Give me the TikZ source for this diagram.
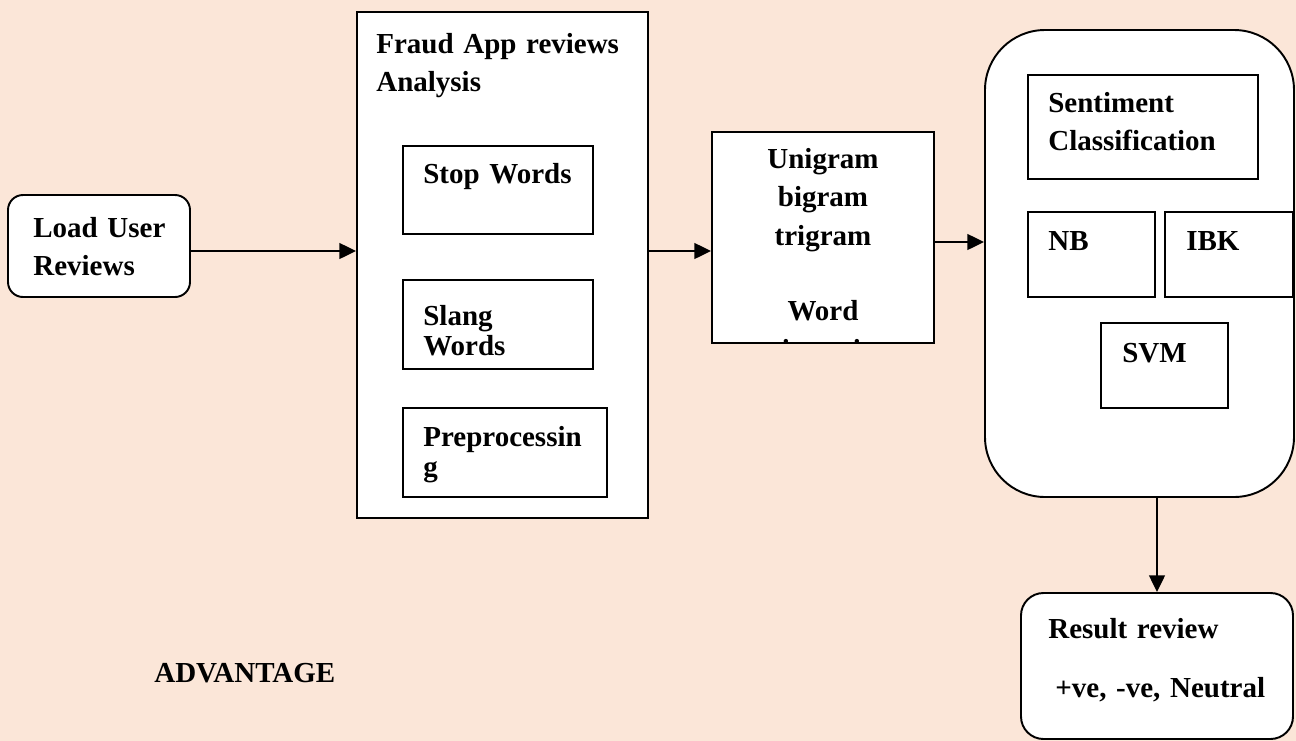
\documentclass[tikz,border=0pt]{standalone}
\usepackage{fontspec}
\setmainfont{Liberation Serif}
\usetikzlibrary{arrows.meta,fit}

\definecolor{peach}{HTML}{FBE6D8}
% tighter word spacing for the box labels
\newcommand\boxfont[1]{\fontsize{16.5pt}{#1}\selectfont\bfseries\spaceskip=0.17em plus 0.05em\relax}

\begin{document}
\begin{tikzpicture}[x=0.02cm,y=-0.02cm]
    % Box and text styles for the review pipeline
    \tikzset{
        box/.style={draw, line width=1.1pt, fill=white, inner sep=0pt},
        inbox/.style={draw, line width=0.8pt, fill=white, inner sep=0pt},
        lbl/.style={inner sep=0pt, anchor=base west, align=left, text width=#1,
            font=\boxfont{22pt}},
        lbl/.default=5cm,
        sublbl/.style={lbl=#1, font=\boxfont{17.6pt}},
        sublbl/.default=4cm,
        arr/.style={line width=1.1pt, -{Triangle[length=9.5pt,width=9pt]}}
    }

    % Page background
    \fill[peach] (0,0) rectangle (1296,741);
    \useasboundingbox (0,0) rectangle (1296,741);

    % Input
    \node[box, rounded corners=0.3cm, fit={(8,195) (190,297)}] (load) {};
    \node[lbl] at (33,237) {Load User\\Reviews};

    % Review analysis block
    \node[box, fit={(357,12) (648,518)}] (fraud) {};
    \node[lbl=6cm] at (376,53) {Fraud App reviews\\Analysis};

    \node[inbox, fit={(403,146) (593,234)}] (stop) {};
    \node[sublbl] at (423,183) {Stop Words};

    \node[inbox, fit={(403,280) (593,369)}] (slang) {};
    \node[sublbl] at (423,325) {Slang\\Words};

    \node[inbox, fit={(403,408) (607,497)}] (prep) {};
    \node[sublbl] at (423,446) {Preprocessin\\g};

    % N-gram features (text runs past the box and is cut off)
    \node[box, fit={(712,132) (934,343)}] (gram) {};
    \begin{scope}
        \clip (713,133) rectangle (933,342);
        \node[lbl=4cm, align=center, anchor=base] at (823,168)
            {Unigram\\bigram\\trigram\\[21pt]Word\\orientation};
    \end{scope}

    % Classifiers
    \node[box, rounded corners=1.2cm, fit={(985,30) (1294,497)}] (cls) {};
    \node[inbox, fit={(1028,75) (1258,179)}] (sent) {};
    \node[lbl] at (1048,112) {Sentiment\\Classification};

    \node[inbox, fit={(1028,212) (1155,297)}] (nb) {};
    \node[lbl] at (1048,250) {NB};
    \node[inbox, fit={(1165,212) (1293,297)}] (ibk) {};
    \node[lbl] at (1186,250) {IBK};
    \node[inbox, fit={(1101,323) (1228,408)}] (svm) {};
    \node[lbl] at (1122,362) {SVM};

    % Output
    \node[box, rounded corners=0.45cm, fit={(1021,593) (1293,739)}] (res) {};
    \node[lbl] at (1048,638) {Result review\\[12pt]\hspace*{4pt}+ve, -ve, Neutral};

    \node[lbl] at (154,682) {ADVANTAGE};

    % Connectors
    \coordinate (flow) at (0,251);
    \coordinate (flow2) at (0,242);
    \draw[arr] (flow -| load.east) -- (flow -| fraud.west);
    \draw[arr] (flow -| fraud.east) -- (flow -| gram.west);
    \draw[arr] (flow2 -| gram.east) -- (flow2 -| cls.west);
    \draw[arr] (res.north |- cls.south) -- (res.north);
\end{tikzpicture}
\end{document}
